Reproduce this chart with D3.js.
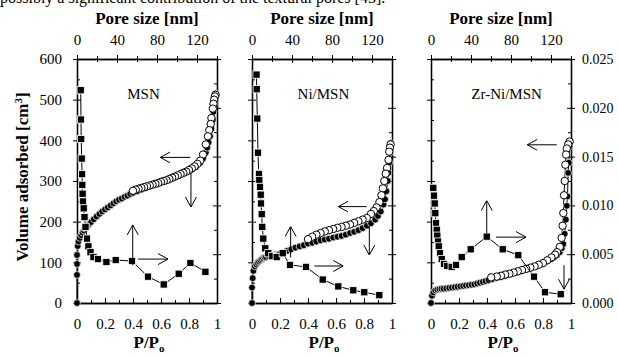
<!DOCTYPE html>
<html>
<head>
<meta charset="utf-8">
<script src="https://cdn.jsdelivr.net/npm/d3@7"></script>
<style>
  body { margin: 0; background: #fff; }
  svg { display: block; font-family: "Liberation Serif", "Times New Roman", serif; }
</style>
</head>
<body>
<svg id="chart"></svg>
<script>
// ---- data ----
// isotherms: relative pressure P/Po and volume adsorbed
const msnAdsP = [0, 0, 0, 0, 0.005, 0.01, 0.02, 0.03, 0.04, 0.05, 0.06, 0.07, 0.08, 0.09, 0.1, 0.12, 0.14, 0.16, 0.18, 0.2, 0.22, 0.24, 0.26, 0.28, 0.3, 0.32, 0.34, 0.36, 0.38, 0.4, 0.43, 0.46, 0.49, 0.52, 0.55, 0.58, 0.61, 0.64, 0.67, 0.7, 0.73, 0.76, 0.79, 0.82, 0.85, 0.88, 0.9, 0.92, 0.93, 0.94, 0.95, 0.96, 0.97, 0.975, 0.98, 0.985, 0.99];
const msnAdsV = [0, 69, 96, 118, 140, 151, 160, 167, 173, 178, 183, 187, 191, 195, 199, 206, 213, 219, 225, 230, 235, 240, 245, 250, 254, 257, 261, 264, 268, 271, 275, 279, 283, 287, 291, 295, 299, 303, 307, 311, 315, 319, 323, 328, 335, 345, 355, 370, 382, 395, 410, 428, 450, 470, 490, 505, 515];
const msnDesP = [0.99, 0.985, 0.98, 0.975, 0.97, 0.96, 0.955, 0.945, 0.935, 0.92, 0.9, 0.88, 0.86, 0.84, 0.82, 0.8, 0.78, 0.76, 0.74, 0.72, 0.7, 0.68, 0.66, 0.64, 0.62, 0.6, 0.58, 0.56, 0.54, 0.52, 0.5, 0.48, 0.46, 0.44, 0.42, 0.4];
const msnDesV = [512, 508, 500, 490, 478, 455, 440, 425, 410, 390, 365, 350, 342, 336, 331, 327, 323, 320, 317, 314, 311, 308, 305, 302, 300, 298, 295, 293, 291, 289, 287, 285, 283, 281, 279, 276];

const niAdsP = [0, 0, 0.005, 0.01, 0.02, 0.03, 0.04, 0.05, 0.06, 0.07, 0.08, 0.09, 0.1, 0.12, 0.14, 0.16, 0.18, 0.2, 0.22, 0.25, 0.28, 0.31, 0.34, 0.37, 0.4, 0.43, 0.46, 0.49, 0.52, 0.55, 0.58, 0.61, 0.64, 0.67, 0.7, 0.73, 0.76, 0.79, 0.82, 0.85, 0.88, 0.9, 0.92, 0.94, 0.95, 0.96, 0.97, 0.975, 0.98, 0.985, 0.99];
const niAdsV = [0, 38, 61, 79, 90, 95, 99, 102, 105, 108, 110, 112, 113, 115, 117, 118, 119, 121, 124, 128, 132, 136, 139, 142, 146, 148, 151, 154, 156, 158, 161, 163, 165, 168, 172, 175, 179, 184, 190, 196, 205, 214, 225, 242, 255, 275, 300, 320, 345, 370, 393];
const niDesP = [0.99, 0.985, 0.98, 0.975, 0.965, 0.955, 0.945, 0.935, 0.925, 0.91, 0.89, 0.87, 0.85, 0.82, 0.79, 0.76, 0.73, 0.7, 0.67, 0.64, 0.61, 0.58, 0.55, 0.52, 0.49, 0.46, 0.43, 0.4];
const niDesV = [390, 382, 372, 352, 332, 318, 300, 282, 265, 248, 235, 226, 219, 209, 205, 201, 197, 193, 190, 187, 185, 182, 179, 176, 172, 168, 163, 157];

const zrAdsP = [0, 0.007, 0.017, 0.03, 0.045, 0.06, 0.075, 0.09, 0.11, 0.13, 0.15, 0.17, 0.19, 0.21, 0.23, 0.25, 0.27, 0.29, 0.31, 0.33, 0.35, 0.37, 0.39, 0.41, 0.44, 0.47, 0.5, 0.53, 0.56, 0.59, 0.62, 0.65, 0.68, 0.71, 0.74, 0.77, 0.8, 0.83, 0.86, 0.88, 0.9, 0.92, 0.935, 0.945, 0.955, 0.963, 0.97, 0.975, 0.98, 0.985, 0.99, 0.995];
const zrAdsV = [0, 18, 26, 31, 33, 34, 35, 35, 36, 37, 38, 39, 40, 41, 42, 43, 44, 45, 46, 48, 50, 52, 54, 56, 59, 62, 64, 67, 70, 73, 76, 79, 83, 86, 90, 94, 98, 103, 108, 113, 118, 125, 135, 145, 170, 205, 239, 262, 320, 345, 385, 397];
const zrDesP = [0.99, 0.98, 0.97, 0.965, 0.96, 0.955, 0.95, 0.945, 0.94, 0.933, 0.92, 0.9, 0.886, 0.86, 0.83, 0.8, 0.77, 0.74, 0.71, 0.68, 0.65, 0.62, 0.59, 0.56, 0.53, 0.5, 0.47, 0.43];
const zrDesV = [397, 390, 380, 365, 340, 300, 265, 221, 190, 160, 138, 125, 119, 112, 105, 98, 94, 90, 87, 84, 81, 78, 75, 72, 70, 67, 65, 63];

// pore size distributions: pore size [nm] and right-axis value
const msnPoreD = [3.7, 4.0, 4.2, 4.7, 5.1, 5.3, 5.6, 6.0, 6.7, 7.5, 8.5, 10.0, 11.4, 13.5, 16.5, 21.0, 29.4, 38.7, 55.0, 71.0, 86.7, 101.7, 113.4, 128.4];
const msnPoreV = [0.0218, 0.0188, 0.0168, 0.0148, 0.0132, 0.0121, 0.0112, 0.0104, 0.0097, 0.0088, 0.0078, 0.0066, 0.0058, 0.0052, 0.0047, 0.0045, 0.0042, 0.0044, 0.0043, 0.0027, 0.0019, 0.0030, 0.0041, 0.0032];
const niPoreD = [4.5, 4.7, 5.3, 6.0, 6.7, 7.0, 7.3, 8.0, 8.7, 9.0, 9.7, 10.3, 11.3, 13.3, 16.3, 20.3, 24.7, 30.7, 38.0, 54.0, 70.7, 86.3, 101.3, 112.3, 127.3];
const niPoreV = [0.0234, 0.0219, 0.0189, 0.0154, 0.0133, 0.0132, 0.0126, 0.0119, 0.0111, 0.0102, 0.0091, 0.0078, 0.0066, 0.0056, 0.0051, 0.0048, 0.0047, 0.0051, 0.0039, 0.0037, 0.0024, 0.0017, 0.0013, 0.0011, 0.0008];
const zrPoreD = [2.3, 3.0, 3.7, 4.3, 5.0, 5.7, 6.3, 7.0, 7.7, 9.0, 10.7, 13.0, 16.3, 20.7, 25.0, 30.7, 39.7, 55.7, 71.7, 87.3, 103.0, 114.0, 129.7];
const zrPoreV = [0.0118, 0.0110, 0.0102, 0.0092, 0.0082, 0.0075, 0.0069, 0.0063, 0.0058, 0.0051, 0.0045, 0.0040, 0.0038, 0.0037, 0.0039, 0.0047, 0.0055, 0.0068, 0.0055, 0.0049, 0.0027, 0.0011, 0.0009];

// arrows in data units: [P1, V1, P2, V2]
const msnArrows = [[0.81, 358, 0.595, 358], [0.814, 320, 0.814, 236], [0.398, 93, 0.398, 192], [0.436, 108, 0.65, 108]];
const niArrows = [[0.819, 237, 0.617, 237], [0.838, 188, 0.838, 118], [0.276, 112, 0.276, 188], [0.445, 91, 0.652, 91]];
const zrArrows = [[0.898, 389, 0.688, 389], [0.95, 93, 0.95, 34], [0.398, 172, 0.398, 252], [0.464, 162, 0.679, 162]];

// tick labels
const pTicks = [0, 0.2, 0.4, 0.6, 0.8, 1];
const pMinor = [0.1, 0.3, 0.5, 0.7, 0.9];
const poreTicks = [0, 40, 80, 120];
const poreMinor = [20, 60, 100, 140];
const volTicks = [0, 100, 200, 300, 400, 500, 600];
const volMinor = [50, 150, 250, 350, 450, 550];
const distTicks = [0, 0.005, 0.01, 0.015, 0.02, 0.025];
const distMinor = [0.0025, 0.0075, 0.0125, 0.0175, 0.0225];

const sampleNames = ['MSN', 'Ni/MSN', 'Zr-Ni/MSN'];

const zip = (a, b) => a.map((v, i) => [v, b[i]]);
const panels = [
  { name: sampleNames[0], ads: zip(msnAdsP, msnAdsV), des: zip(msnDesP, msnDesV), psd: zip(msnPoreD, msnPoreV), arrows: msnArrows },
  { name: sampleNames[1], ads: zip(niAdsP, niAdsV), des: zip(niDesP, niDesV), psd: zip(niPoreD, niPoreV), arrows: niArrows },
  { name: sampleNames[2], ads: zip(zrAdsP, zrAdsV), des: zip(zrDesP, zrDesV), psd: zip(zrPoreD, zrPoreV), arrows: zrArrows }
];

// ---- layout ----
const width = 618;
const height = 357;
const plotTop = 59;
const plotBottom = 303;
const plotW = 140;
const lefts = [77, 252, 431];
const nameX = [0.475, 0.51, 0.54];

const svg = d3.select('#chart').attr('width', width).attr('height', height);

svg.append('defs').append('marker')
  .attr('id', 'arrow')
  .attr('viewBox', '0 0 10 12')
  .attr('refX', 10).attr('refY', 6)
  .attr('markerWidth', 10).attr('markerHeight', 12)
  .attr('markerUnits', 'userSpaceOnUse')
  .attr('orient', 'auto')
  .append('path')
  .attr('d', 'M0,0.5 L10,6 L0,11.5')
  .attr('fill', 'none').attr('stroke', '#000').attr('stroke-width', 1);

// last line of the page text above the figure, cut off at the top edge as in the scan
svg.append('text').attr('x', 0).attr('y', 3)
  .style('font-size', '16px')
  .text('possibly a significant contribution of the textural pores [43].');

const styleAxis = (sel, fontSize) => {
  sel.select('.domain').attr('stroke', '#000').attr('stroke-width', 1.3);
  sel.selectAll('.tick line').attr('stroke', '#000').attr('stroke-width', 1);
  sel.selectAll('.tick text').attr('fill', '#000')
    .style('font-family', '"Liberation Serif", serif').style('font-size', fontSize + 'px');
};

panels.forEach((p, i) => {
  const x0 = lefts[i];
  const xScale = d3.scaleLinear().domain([0, 1]).range([x0, x0 + plotW]);
  const poreScale = d3.scaleLinear().domain([0, 140]).range([x0, x0 + plotW]);
  const yScale = d3.scaleLinear().domain([0, 600]).range([plotBottom, plotTop]);
  const distScale = d3.scaleLinear().domain([0, 0.025]).range([plotBottom, plotTop]);
  const g = svg.append('g');

  // bottom axis (P/Po)
  const bx = g.append('g').attr('transform', `translate(0,${plotBottom})`)
    .call(d3.axisBottom(xScale).tickValues(pTicks).tickFormat(d3.format('~g'))
      .tickSizeInner(-5).tickSizeOuter(0).tickPadding(15));
  styleAxis(bx, 15);
  const bxm = g.append('g').attr('transform', `translate(0,${plotBottom})`)
    .call(d3.axisBottom(xScale).tickValues(pMinor).tickFormat('').tickSizeInner(-3).tickSizeOuter(0));
  styleAxis(bxm, 15);

  // top axis (pore size)
  const tx = g.append('g').attr('transform', `translate(0,${plotTop})`)
    .call(d3.axisTop(poreScale).tickValues(poreTicks).tickFormat(d3.format('d'))
      .tickSizeInner(4).tickSizeOuter(0).tickPadding(10));
  styleAxis(tx, 15);
  tx.selectAll('.tick line').attr('y1', 4);
  const txm = g.append('g').attr('transform', `translate(0,${plotTop})`)
    .call(d3.axisTop(poreScale).tickValues(poreMinor).tickFormat('').tickSizeInner(3).tickSizeOuter(0));
  styleAxis(txm, 15);
  txm.selectAll('.tick line').attr('y1', 3);

  // left axis (volume)
  const ly = g.append('g').attr('transform', `translate(${x0},0)`)
    .call(d3.axisLeft(yScale).tickValues(volTicks).tickFormat(i === 0 ? d3.format('d') : '')
      .tickSizeInner(4).tickSizeOuter(0).tickPadding(11));
  styleAxis(ly, 15);
  ly.selectAll('.tick line').attr('x1', 4);
  const lym = g.append('g').attr('transform', `translate(${x0},0)`)
    .call(d3.axisLeft(yScale).tickValues(volMinor).tickFormat('').tickSizeInner(-3).tickSizeOuter(0));
  styleAxis(lym, 15);

  // right axis (pore size distribution)
  const ry = g.append('g').attr('transform', `translate(${x0 + plotW},0)`)
    .call(d3.axisRight(distScale).tickValues(distTicks).tickFormat(i === 2 ? d3.format('.3f') : '')
      .tickSizeInner(4).tickSizeOuter(0).tickPadding(7));
  styleAxis(ry, 14);
  ry.selectAll('.tick line').attr('x1', -4);
  const rym = g.append('g').attr('transform', `translate(${x0 + plotW},0)`)
    .call(d3.axisRight(distScale).tickValues(distMinor).tickFormat('').tickSizeInner(-3).tickSizeOuter(0));
  styleAxis(rym, 14);

  // isotherms
  const isoLine = d3.line().x(d => xScale(d[0])).y(d => yScale(d[1]));
  g.append('path').datum(p.ads).attr('d', isoLine)
    .attr('fill', 'none').attr('stroke', '#000').attr('stroke-width', 1);
  g.append('path').datum(p.des).attr('d', isoLine)
    .attr('fill', 'none').attr('stroke', '#000').attr('stroke-width', 1);
  g.selectAll('.ads').data(p.ads).enter().append('circle').attr('class', 'ads')
    .attr('cx', d => xScale(d[0])).attr('cy', d => yScale(d[1])).attr('r', 3.4)
    .attr('fill', '#000').attr('stroke', '#fff').attr('stroke-width', 0.7);
  g.selectAll('.des').data(p.des).enter().append('circle').attr('class', 'des')
    .attr('cx', d => xScale(d[0])).attr('cy', d => yScale(d[1])).attr('r', 3.7)
    .attr('fill', '#fff').attr('stroke', '#000').attr('stroke-width', 1);

  // pore size distribution
  const psdLine = d3.line().x(d => poreScale(d[0])).y(d => distScale(d[1]));
  g.append('path').datum(p.psd).attr('d', psdLine)
    .attr('fill', 'none').attr('stroke', '#000').attr('stroke-width', 1);
  g.selectAll('.psd').data(p.psd).enter().append('rect').attr('class', 'psd')
    .attr('x', d => poreScale(d[0]) - 3.6).attr('y', d => distScale(d[1]) - 3.6)
    .attr('width', 7.2).attr('height', 7.2)
    .attr('fill', '#000').attr('stroke', '#fff').attr('stroke-width', 0.8);

  // arrows
  g.selectAll('.arr').data(p.arrows).enter().append('line').attr('class', 'arr')
    .attr('x1', d => xScale(d[0])).attr('y1', d => yScale(d[1]))
    .attr('x2', d => xScale(d[2])).attr('y2', d => yScale(d[3]))
    .attr('stroke', '#000').attr('stroke-width', 1).attr('marker-end', 'url(#arrow)');

  // sample name
  g.append('text').attr('x', xScale(nameX[i])).attr('y', plotTop + 40)
    .attr('text-anchor', 'middle').style('font-size', '15px').text(p.name);

  // axis titles
  g.append('text').attr('x', x0 + plotW / 2).attr('y', 24)
    .attr('text-anchor', 'middle').style('font-size', '17px').style('font-weight', 'bold')
    .text('Pore size [nm]');
  const xt = g.append('text').attr('x', x0 + plotW / 2 + 2).attr('y', 348)
    .attr('text-anchor', 'middle').style('font-size', '17px').style('font-weight', 'bold');
  xt.append('tspan').text('P/P');
  xt.append('tspan').attr('dy', 4).style('font-size', '11px').text('o');
});

// left y-axis title
const yt = svg.append('text').attr('transform', 'translate(28,177) rotate(-90)')
  .attr('text-anchor', 'middle').style('font-size', '17px').style('font-weight', 'bold');
yt.append('tspan').text('Volume adsorbed [cm');
yt.append('tspan').attr('dy', -6).style('font-size', '11px').text('3');
yt.append('tspan').attr('dy', 6).text(']');
</script>
</body>
</html>
